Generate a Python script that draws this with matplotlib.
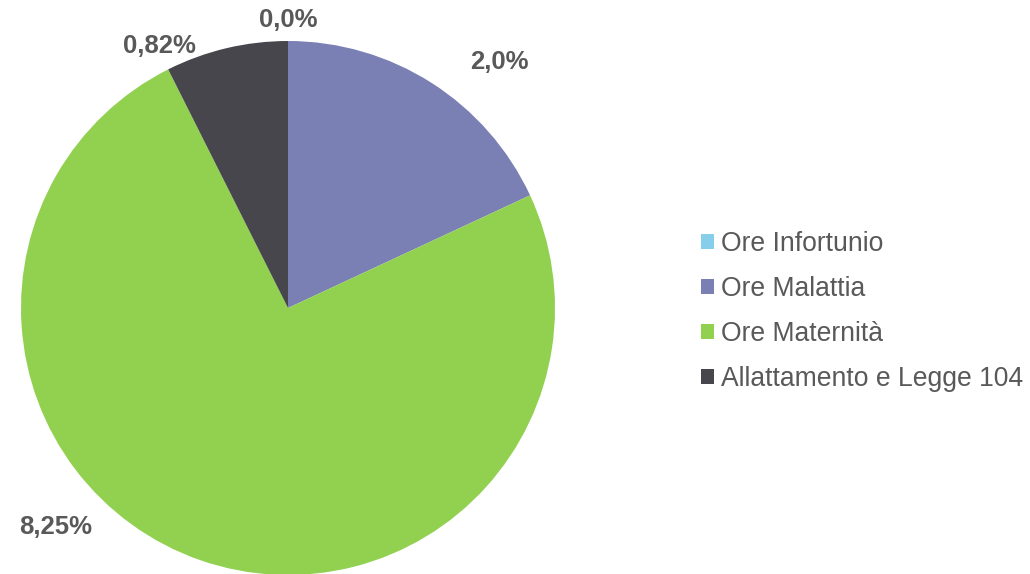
import matplotlib.pyplot as plt

plt.rcParams['font.family'] = ['Liberation Sans', 'DejaVu Sans']

# Dati
categorie = ["Ore Infortunio", "Ore Malattia", "Ore Maternità", "Allattamento e Legge 104"]
valori = [0.0, 2.0, 8.25, 0.82]
etichette = ["0,0%", "2,0%", "8,25%", "0,82%"]
colori = ["#87CEEB", "#7B80B4", "#92D050", "#46464C"]

# posizioni etichette (coordinate del cerchio unitario)
pos_etichette = [(0.0, 1.08), (0.79, 0.92), (-0.87, -0.82), (-0.48, 0.98)]

fig = plt.figure(figsize=(10.3, 5.74), dpi=100)
ax = fig.add_axes([21 / 1030, -1 / 574, 534 / 1030, 534 / 574])

wedges, _ = ax.pie(valori, colors=colori, startangle=90, counterclock=False,
                   radius=1.0, wedgeprops={"linewidth": 0})
ax.set_xlim(-1, 1)
ax.set_ylim(-1, 1)
ax.set_aspect('equal')
ax.axis('off')

for testo, (x, y) in zip(etichette, pos_etichette):
    ax.text(x, y, testo, ha='center', va='center', fontsize=18.5,
            fontweight='bold', color='#595959', clip_on=False)

fig.legend(wedges, categorie, loc='center left', bbox_to_anchor=(677 / 1030, 1 - 311.5 / 574),
           frameon=False, fontsize=19.1, handlelength=0.5, handleheight=0.5,
           handletextpad=0.24, labelspacing=0.72, labelcolor='#595959')

plt.savefig("out.png")
